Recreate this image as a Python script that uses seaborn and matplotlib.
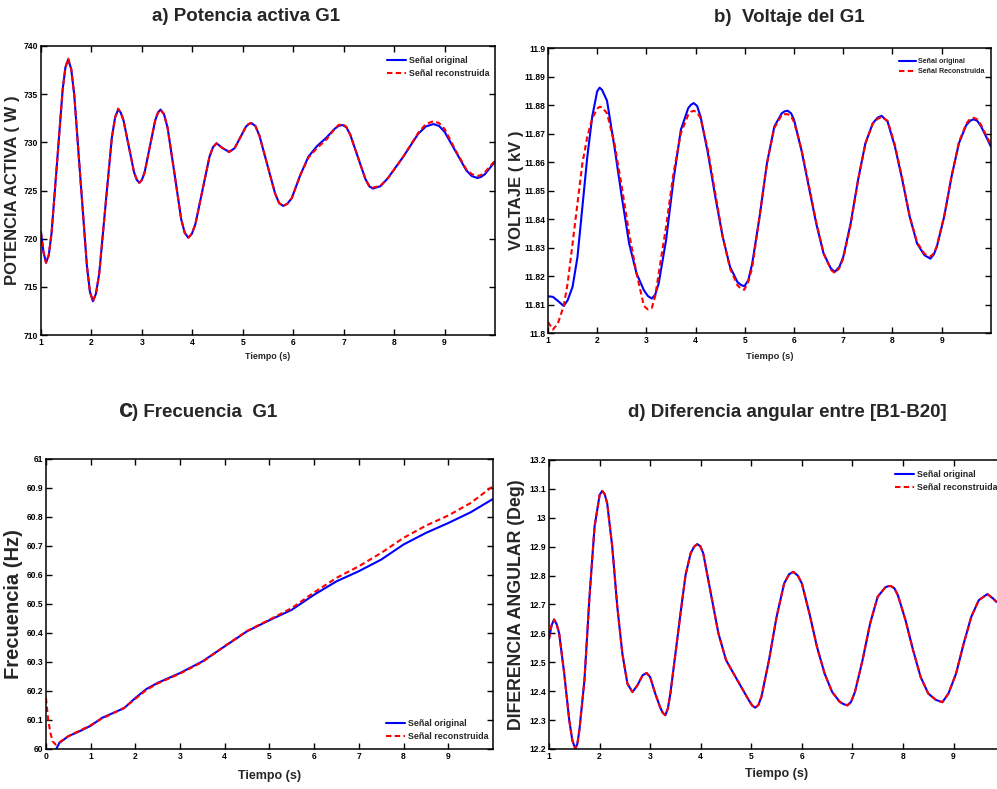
import matplotlib
matplotlib.use("Agg")
import matplotlib.pyplot as plt
import matplotlib.font_manager as fm
import seaborn as sns

# ---- data ----
# a) active power G1
a_t = [1.0, 1.05, 1.1, 1.155, 1.21, 1.32, 1.43, 1.485, 1.54, 1.60,
       1.66, 1.785, 1.91, 1.97, 2.03, 2.09, 2.155, 2.28, 2.405, 2.47,
       2.53, 2.58, 2.635, 2.74, 2.845, 2.9, 2.95, 3.0, 3.055, 3.16,
       3.265, 3.32, 3.37, 3.44, 3.51, 3.645, 3.78, 3.85, 3.92, 3.99,
       4.06, 4.2, 4.34, 4.41, 4.48, 4.6, 4.73, 4.84, 4.95, 5.06,
       5.115, 5.17, 5.25, 5.33, 5.485, 5.64, 5.72, 5.8, 5.88, 5.97,
       6.14, 6.3, 6.47, 6.66, 6.82, 6.9, 6.98, 7.055, 7.13, 7.28,
       7.43, 7.505, 7.58, 7.73, 7.88, 8.18, 8.48, 8.63, 8.78, 8.89,
       9.0, 9.215, 9.43, 9.54, 9.65, 9.72, 9.8, 10.0]
a_orig = [720.7, 718.6, 717.5, 718.3, 720.6, 728.0, 735.5, 737.8, 738.6, 737.6,
          734.9, 726.0, 717.2, 714.5, 713.5, 714.3, 716.4, 723.5, 730.5, 732.6,
          733.4, 733.1, 732.3, 729.6, 726.9, 726.1, 725.8, 726.1, 726.9, 729.6,
          732.3, 733.1, 733.4, 732.9, 731.5, 726.8, 722.0, 720.6, 720.1, 720.5,
          721.5, 725.0, 728.5, 729.5, 729.9, 729.4, 729.0, 729.4, 730.5, 731.6,
          731.9, 732.0, 731.7, 730.7, 727.7, 724.7, 723.7, 723.4, 723.6, 724.2,
          726.6, 728.5, 729.6, 730.5, 731.4, 731.7, 731.8, 731.55, 730.8, 728.5,
          726.2, 725.45, 725.2, 725.45, 726.3, 728.5, 730.9, 731.65, 731.9, 731.7,
          731.1, 729.1, 727.1, 726.5, 726.3, 726.4, 726.7, 728.0]
a_rec = [720.6, 718.6, 717.5, 718.3, 720.6, 728.0, 735.5, 737.8, 738.7, 737.6,
         734.9, 726.0, 717.2, 714.5, 713.5, 714.3, 716.4, 723.5, 730.5, 732.6,
         733.5, 733.1, 732.3, 729.6, 726.9, 726.1, 725.8, 726.1, 726.9, 729.6,
         732.3, 733.1, 733.4, 732.9, 731.5, 726.8, 722.0, 720.6, 720.1, 720.5,
         721.5, 725.0, 728.5, 729.5, 729.9, 729.4, 729.0, 729.4, 730.5, 731.6,
         731.9, 732.0, 731.7, 730.7, 727.7, 724.7, 723.7, 723.4, 723.6, 724.2,
         726.6, 728.4, 729.4, 730.3, 731.4, 731.8, 731.9, 731.6, 730.8, 728.5,
         726.2, 725.5, 725.3, 725.5, 726.3, 728.5, 731.0, 731.9, 732.2, 732.0,
         731.4, 729.2, 727.2, 726.7, 726.5, 726.6, 726.9, 728.1]

# b) voltage G1
b_t = [1.0, 1.1, 1.2, 1.32, 1.4, 1.5, 1.6, 1.7, 1.8, 1.9,
       2.0, 2.05, 2.1, 2.2, 2.35, 2.5, 2.65, 2.8, 2.95, 3.03,
       3.11, 3.18, 3.25, 3.4, 3.55, 3.7, 3.85, 3.9, 3.96, 4.03,
       4.1, 4.25, 4.4, 4.55, 4.7, 4.85, 4.92, 4.99, 5.07, 5.15,
       5.3, 5.45, 5.6, 5.75, 5.81, 5.87, 5.94, 6.0, 6.15, 6.3,
       6.45, 6.6, 6.75, 6.83, 6.92, 7.0, 7.15, 7.3, 7.45, 7.6,
       7.7, 7.78, 7.9, 8.05, 8.2, 8.35, 8.5, 8.65, 8.77, 8.84,
       8.9, 9.05, 9.2, 9.35, 9.5, 9.58, 9.65, 9.72, 9.8, 9.9,
       10.0]
b_orig = [11.8129, 11.8127, 11.8113, 11.8095, 11.8115, 11.8162, 11.8267, 11.8443, 11.8619, 11.8760,
          11.8848, 11.8861, 11.8853, 11.8815, 11.8654, 11.8478, 11.8314, 11.8209, 11.8150, 11.8130,
          11.8121, 11.8135, 11.8174, 11.8326, 11.8537, 11.8713, 11.8789, 11.8800, 11.8807, 11.8797,
          11.8760, 11.8631, 11.8478, 11.8338, 11.8232, 11.8179, 11.8169, 11.8164, 11.8185, 11.8244,
          11.8408, 11.8596, 11.8725, 11.8771, 11.8778, 11.8780, 11.8771, 11.8748, 11.8642, 11.8513,
          11.8385, 11.8279, 11.8226, 11.8215, 11.8232, 11.8267, 11.8385, 11.8537, 11.8666, 11.8736,
          11.8756, 11.8762, 11.8742, 11.8654, 11.8537, 11.8408, 11.8314, 11.8273, 11.8261, 11.8276,
          11.8302, 11.8408, 11.8549, 11.8666, 11.8730, 11.8745, 11.8750, 11.8745, 11.8725, 11.8690,
          11.8654]
b_rec = [11.8039, 11.8012, 11.8033, 11.8095, 11.8174, 11.8314, 11.8455, 11.8596, 11.8689, 11.8754,
         11.8787, 11.8794, 11.8792, 11.8771, 11.8666, 11.8513, 11.8349, 11.8209, 11.8095, 11.8083,
         11.8088, 11.8130, 11.8209, 11.8373, 11.8560, 11.8701, 11.8766, 11.8776, 11.8780, 11.8775,
         11.8754, 11.8642, 11.8490, 11.8338, 11.8226, 11.8168, 11.8155, 11.8152, 11.8180, 11.8230,
         11.8410, 11.8596, 11.8720, 11.8765, 11.8768, 11.8768, 11.8760, 11.8740, 11.8645, 11.8520,
         11.8390, 11.8280, 11.8222, 11.8210, 11.8228, 11.8262, 11.8380, 11.8535, 11.8665, 11.8735,
         11.8752, 11.8758, 11.8745, 11.8660, 11.8540, 11.8410, 11.8318, 11.8278, 11.8268, 11.8280,
         11.8305, 11.8410, 11.8550, 11.8670, 11.8735, 11.8752, 11.8755, 11.8750, 11.8730, 11.8695,
         11.8660]

# c) frequency G1
c_t = [0.23, 0.3, 0.5, 0.75, 1.0, 1.25, 1.5, 1.75, 2.0, 2.25, 2.5, 3.0, 3.5, 4.0, 4.5, 5.0,
       5.5, 6.0, 6.5, 7.0, 7.5, 8.0, 8.5, 9.0, 9.5, 10.0]
c_orig = [60.0, 60.021, 60.044, 60.061, 60.080, 60.107, 60.124, 60.141, 60.176, 60.207,
          60.228, 60.262, 60.302, 60.354, 60.406, 60.444, 60.480, 60.532, 60.578, 60.613,
          60.653, 60.705, 60.745, 60.779, 60.816, 60.862]
c_rec_t = [0.0, 0.05, 0.1, 0.15, 0.22, 0.3, 0.5, 0.75, 1.0, 1.25, 1.5, 1.75, 2.0, 2.25, 2.5,
           3.0, 3.5, 4.0, 4.5, 5.0, 5.5, 6.0, 6.5, 7.0, 7.5, 8.0, 8.5, 9.0, 9.5, 10.0]
c_rec = [60.176, 60.101, 60.055, 60.026, 60.015, 60.023, 60.044, 60.063, 60.082, 60.105,
         60.123, 60.142, 60.173, 60.204, 60.226, 60.260, 60.300, 60.355, 60.407, 60.446,
         60.486, 60.540, 60.590, 60.630, 60.676, 60.728, 60.770, 60.805, 60.848, 60.906]

# d) angle difference B1-B20 (both signals overlap)
d_t = [1.0, 1.05, 1.1, 1.15, 1.2, 1.3, 1.4, 1.46, 1.52, 1.56,
       1.6, 1.7, 1.8, 1.9, 2.0, 2.05, 2.1, 2.15, 2.25, 2.35,
       2.45, 2.55, 2.65, 2.75, 2.85, 2.93, 3.0, 3.1, 3.2, 3.25,
       3.3, 3.35, 3.4, 3.5, 3.6, 3.7, 3.8, 3.87, 3.93, 3.99,
       4.05, 4.2, 4.35, 4.5, 4.65, 4.8, 4.95, 5.02, 5.08, 5.14,
       5.2, 5.35, 5.5, 5.65, 5.75, 5.83, 5.92, 6.0, 6.15, 6.3,
       6.45, 6.6, 6.75, 6.83, 6.9, 6.97, 7.05, 7.2, 7.35, 7.5,
       7.65, 7.7, 7.76, 7.83, 7.9, 8.05, 8.2, 8.35, 8.5, 8.65,
       8.78, 8.9, 9.05, 9.2, 9.35, 9.5, 9.67, 9.78, 9.85]
d_orig = [12.582, 12.628, 12.648, 12.632, 12.600, 12.461, 12.299, 12.230, 12.201, 12.218,
          12.265, 12.438, 12.727, 12.969, 13.079, 13.093, 13.082, 13.050, 12.900, 12.692,
          12.530, 12.426, 12.397, 12.421, 12.455, 12.463, 12.449, 12.392, 12.343, 12.325,
          12.317, 12.340, 12.392, 12.530, 12.669, 12.802, 12.877, 12.900, 12.909, 12.902,
          12.877, 12.738, 12.600, 12.508, 12.461, 12.415, 12.369, 12.350, 12.343, 12.352,
          12.380, 12.507, 12.657, 12.773, 12.805, 12.813, 12.800, 12.773, 12.669, 12.553,
          12.461, 12.397, 12.363, 12.355, 12.351, 12.362, 12.397, 12.507, 12.634, 12.727,
          12.759, 12.763, 12.764, 12.756, 12.732, 12.646, 12.542, 12.449, 12.392, 12.370,
          12.362, 12.392, 12.461, 12.564, 12.657, 12.715, 12.736, 12.721, 12.709]
d_rec = list(d_orig)

ticks_1_9 = [1, 2, 3, 4, 5, 6, 7, 8, 9]
ticks_0_9 = [0, 1, 2, 3, 4, 5, 6, 7, 8, 9]
a_yticks = [710, 715, 720, 725, 730, 735, 740]
b_yticks = [11.8, 11.81, 11.82, 11.83, 11.84, 11.85, 11.86, 11.87, 11.88, 11.89, 11.9]
c_yticks = [60, 60.1, 60.2, 60.3, 60.4, 60.5, 60.6, 60.7, 60.8, 60.9, 61]
d_yticks = [12.2, 12.3, 12.4, 12.5, 12.6, 12.7, 12.8, 12.9, 13, 13.1, 13.2]

# ---- style ----
sns.set_style("ticks")
plt.rcParams["font.family"] = ["Liberation Sans", "DejaVu Sans"]
names = {f.name for f in fm.fontManager.ttflist}
HAS_NARROW = "Liberation Sans Narrow" in names
NARROW = "Liberation Sans Narrow" if HAS_NARROW else "Liberation Sans"
k = 1.0 if HAS_NARROW else 0.82   # shrink regular font if narrow one is missing

BLUE, RED = "#0000ff", "#ff0000"
DASH = (0, (2.6, 1.6))


def fmt(v):
    return f"{v:g}"


def draw(ax, t, orig, t_rec, rec, lab_orig, lab_rec):
    sns.lineplot(x=t, y=orig, ax=ax, color=BLUE, lw=1.5, label=lab_orig)
    sns.lineplot(x=t_rec, y=rec, ax=ax, color=RED, lw=1.5, linestyle=DASH, label=lab_rec)


def style(ax, xlim, xticks, ylim, yticks, ylabel, ylab_fs, ylab_x, xlab_fs, xlab_y, tick_fs):
    ax.set_xlim(*xlim)
    ax.set_ylim(*ylim)
    ax.set_xticks(xticks)
    ax.set_xticklabels([fmt(v) for v in xticks], fontfamily=NARROW, fontweight="bold",
                       fontsize=tick_fs * k)
    ax.set_yticks(yticks)
    ax.set_yticklabels([fmt(v) for v in yticks], fontfamily=NARROW, fontweight="bold",
                       fontsize=tick_fs * k)
    ax.tick_params(direction="in", top=True, right=True, length=4, width=1, pad=2,
                   colors="black")
    for s in ax.spines.values():
        s.set_visible(True)
        s.set_linewidth(1.1)
        s.set_color("black")
    ax.set_ylabel(ylabel, fontweight="bold", fontsize=ylab_fs)
    ax.yaxis.set_label_coords(ylab_x, 0.5)
    ax.set_xlabel("Tiempo (s)", fontfamily=NARROW, fontweight="bold", fontsize=xlab_fs * k)
    ax.xaxis.set_label_coords(0.5, xlab_y)
    ax.grid(False)


def legend(ax, loc, anchor, fs, hl):
    return ax.legend(loc=loc, bbox_to_anchor=anchor, frameon=False, borderpad=0,
                     borderaxespad=0, labelspacing=0.45, handlelength=hl,
                     handletextpad=0.3, prop={"family": NARROW, "weight": "bold",
                                              "size": fs * k})


fig = plt.figure(figsize=(9.97, 7.89), dpi=100)
fig.patch.set_facecolor("white")

ax_a = fig.add_axes([0.0411, 0.5754, 0.4554, 0.3663])
ax_b = fig.add_axes([0.5496, 0.5779, 0.4443, 0.3612])
ax_c = fig.add_axes([0.0461, 0.0507, 0.4483, 0.3676])
ax_d = fig.add_axes([0.5507, 0.0507, 0.4564, 0.3663])

draw(ax_a, a_t, a_orig, a_t, a_rec, "Señal original", "Señal reconstruida")
style(ax_a, (1, 10), ticks_1_9, (710, 740), a_yticks, "POTENCIA ACTIVA ( W )",
      12, -0.046, 7.8, -0.058, 7.5)
legend(ax_a, "upper right", (0.987, 0.965), 7.8, 2.1)

draw(ax_b, b_t, b_orig, b_t, b_rec, "Señal original", "Señal Reconstruida")
style(ax_b, (1, 10), ticks_1_9, (11.8, 11.9), b_yticks, "VOLTAJE ( kV )",
      12, -0.054, 8.2, -0.067, 7.5)
legend(ax_b, "upper right", (0.986, 0.965), 6.3, 2.4)

draw(ax_c, c_t, c_orig, c_rec_t, c_rec, "Señal original", "Señal reconstruida")
style(ax_c, (0, 10), ticks_0_9, (60, 61), c_yticks, "Frecuencia (Hz)",
      14.5, -0.051, 11, -0.072, 7.5)
legend(ax_c, "lower right", (0.989, 0.028), 7.8, 2.1)

draw(ax_d, d_t, d_orig, d_t, d_rec, "Señal original", "Señal reconstruida")
style(ax_d, (1, 10), ticks_1_9, (12.2, 13.2), d_yticks, "DIFERENCIA ANGULAR (Deg)",
      12.8, -0.053, 11, -0.066, 7.5)
legend(ax_d, "upper right", (0.985, 0.965), 7.8, 2.1)

# panel titles
tkw = dict(fontweight="bold", fontsize=13.5, va="baseline")
fig.text(0.2467, 0.9734, "a) Potencia activa G1", ha="center", **tkw)
fig.text(0.792, 0.972, "b)  Voltaje del G1", ha="center", **tkw)
fig.text(119 / 997, 0.4715, "c", ha="left", fontweight="bold", fontsize=18.5, va="baseline")
fig.text(132 / 997, 0.4715, ") Frecuencia  G1", ha="left", **tkw)
fig.text(0.790, 0.4715, "d) Diferencia angular entre [B1-B20]", ha="center", **tkw)

fig.savefig("out.png", dpi=100)
